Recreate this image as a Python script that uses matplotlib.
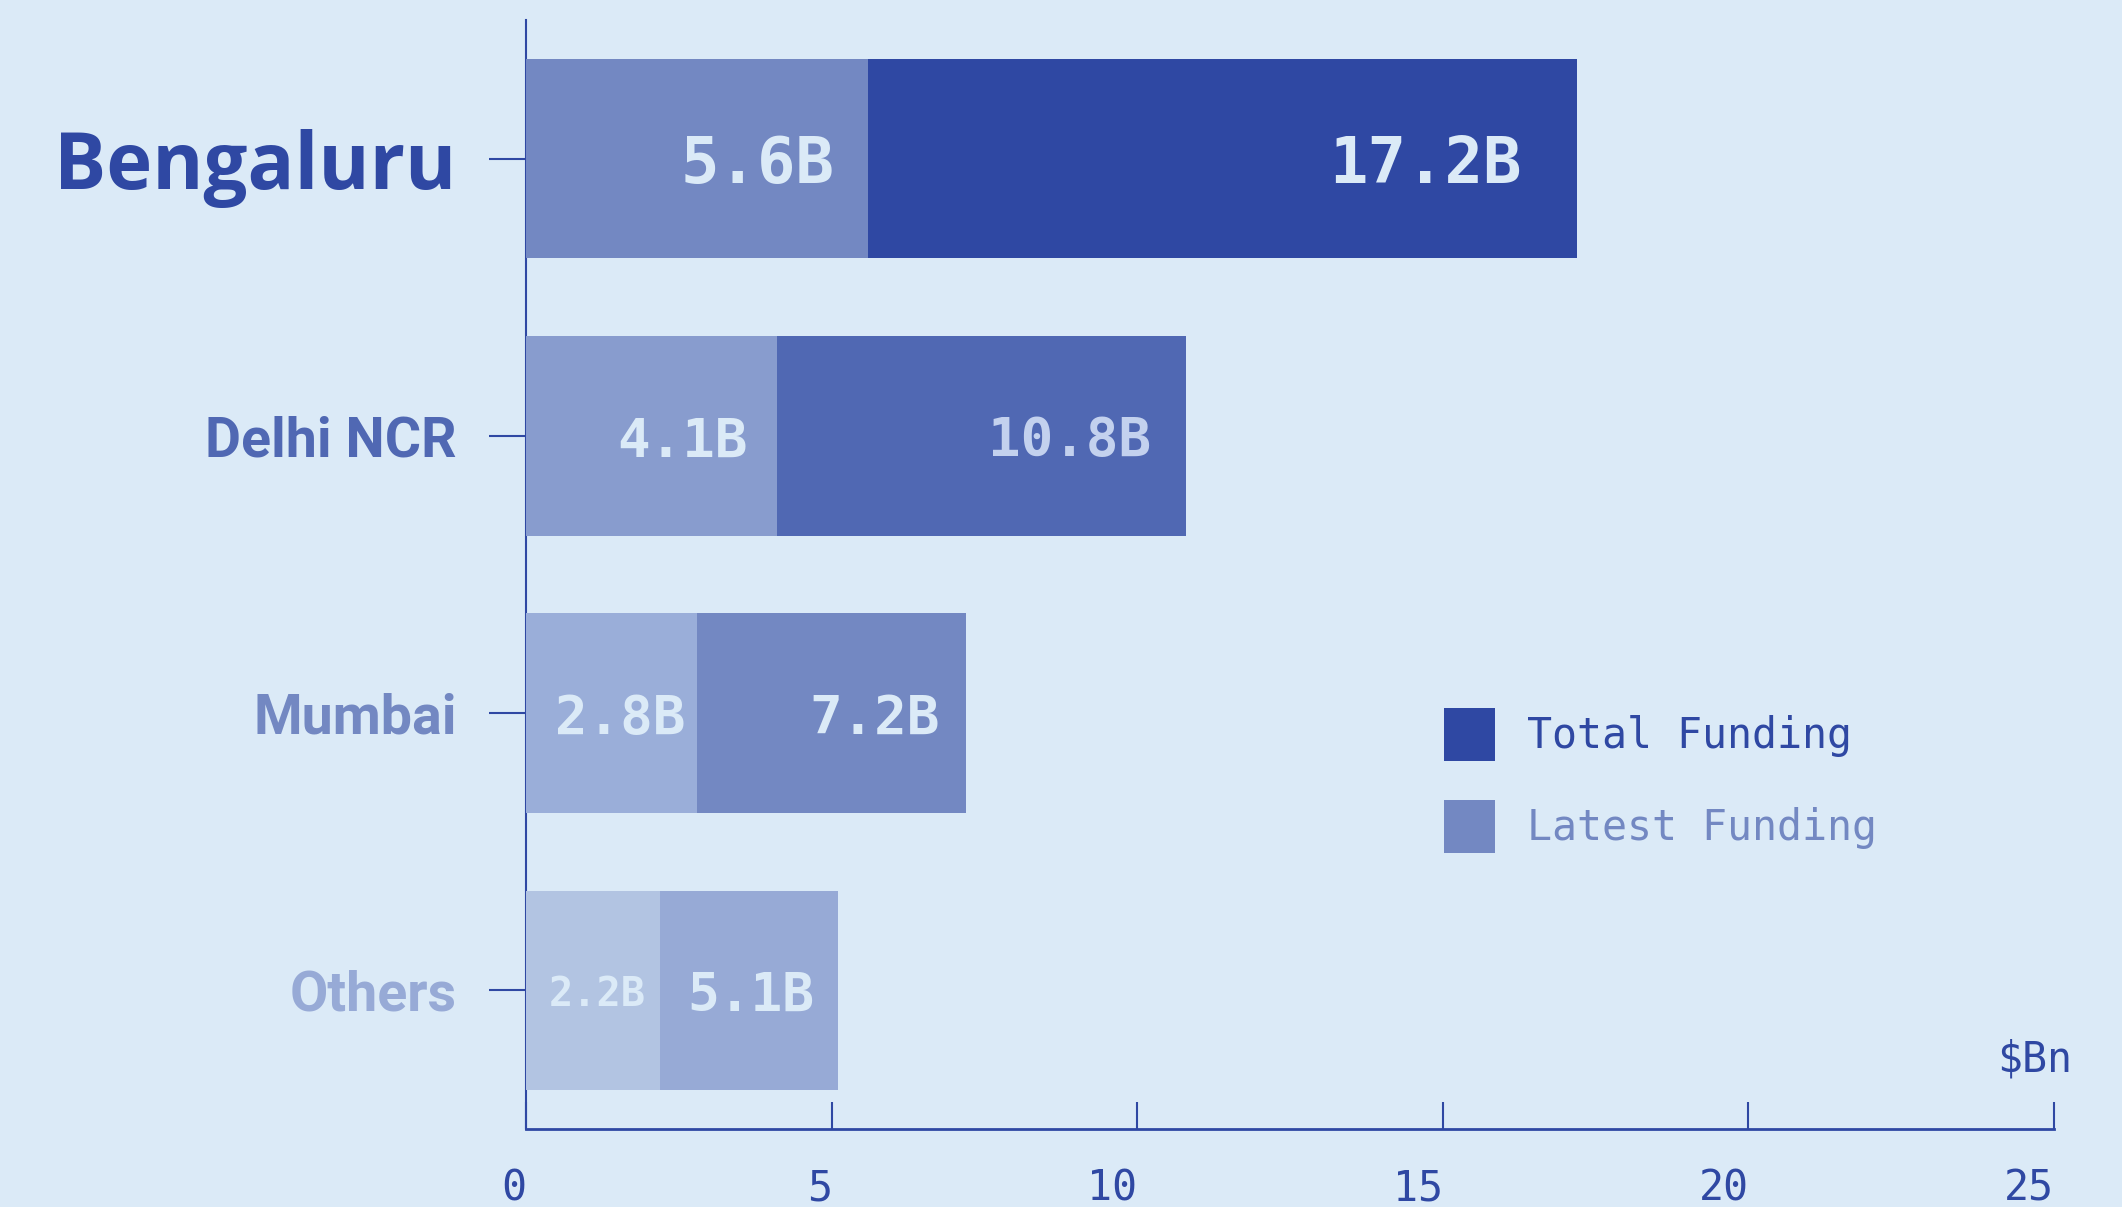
import matplotlib
matplotlib.use("Agg")
import matplotlib.pyplot as plt
from matplotlib.patches import Patch
from matplotlib.transforms import offset_copy
import numpy as np

# ---- data ----
cities = ["Bengaluru", "Delhi NCR", "Mumbai", "Others"]
total_funding = [17.2, 10.8, 7.2, 5.1]
latest_funding = [5.6, 4.1, 2.8, 2.2]
x_ticks = [0, 5, 10, 15, 20, 25]
x_tick_labels = ["0", "5", "10", "15", "20", "25"]
unit_label = "$Bn"
legend_labels = ["Total Funding", "Latest Funding"]

# ---- styles ----
BG = "#dbeaf7"
DARK = "#2f48a3"
total_colors = ["#2f48a3", "#5068b3", "#7388c2", "#97aad6"]
latest_colors = ["#7388c2", "#889cce", "#9aaed9", "#b2c4e2"]
city_sizes = [56, 40, 40, 40]
city_weights = ["bold", "bold", "bold", "bold"]
city_fonts = ["Open Sans", "Roboto", "Roboto", "Roboto"]
total_txt_sizes = [46, 39, 39, 38]
latest_txt_sizes = [46, 39, 39, 29]
total_txt_colors = ["#dbeaf7", "#c3d1ee", "#dbeaf7", "#dbeaf7"]
latest_txt_colors = ["#dbeaf7", "#dbeaf7", "#dbeaf7", "#dbeaf7"]
total_off = [56, 35, 26, 23]   # pixels from bar end
latest_off = [34, 29, 12, 15]
MONO = "DejaVu Sans Mono"

fig = plt.figure(figsize=(21.22, 12.07), dpi=100)
fig.patch.set_facecolor(BG)
ax = fig.add_axes([526 / 2122, 78 / 1207, 1528 / 2122, 1109 / 1207])
ax.set_facecolor(BG)

y = np.arange(len(cities))
ax.barh(y, total_funding, height=0.72, color=total_colors, zorder=2)
ax.barh(y, latest_funding, height=0.72, color=latest_colors, zorder=3)

ax.set_xlim(0, 25)
ax.set_ylim(3.5, -0.5)

for s in ["top", "right"]:
    ax.spines[s].set_visible(False)
ax.spines["left"].set_color(DARK)
ax.spines["left"].set_linewidth(1.5)
ax.spines["bottom"].set_color(DARK)
ax.spines["bottom"].set_linewidth(2.0)

ax.set_xticks(x_ticks)
ax.set_xticklabels(x_tick_labels, fontfamily=MONO, fontsize=30, color=DARK)
for lbl in ax.get_xticklabels():
    lbl.set_ha("right")
ax.tick_params(axis="x", direction="in", length=19.5, width=1.5, color=DARK, pad=28)

ax.set_yticks(y)
ax.set_yticklabels(cities)
for lbl, c, sz, w, f in zip(ax.get_yticklabels(), total_colors, city_sizes,
                            city_weights, city_fonts):
    lbl.set_color(c)
    lbl.set_fontsize(sz)
    lbl.set_fontweight(w)
    lbl.set_fontfamily(f)
ax.tick_params(axis="y", direction="out", length=27, width=1.5, color=DARK, pad=23)

# value labels
for i in range(len(cities)):
    tr = offset_copy(ax.transData, fig=fig, x=-total_off[i], y=0, units="dots")
    ax.text(total_funding[i], y[i], f"{total_funding[i]}B", transform=tr,
            ha="right", va="center_baseline", fontfamily=MONO, fontweight="bold",
            fontsize=total_txt_sizes[i], color=total_txt_colors[i], zorder=5)
    tr2 = offset_copy(ax.transData, fig=fig, x=-latest_off[i], y=0, units="dots")
    ax.text(latest_funding[i], y[i], f"{latest_funding[i]}B", transform=tr2,
            ha="right", va="center_baseline", fontfamily=MONO, fontweight="bold",
            fontsize=latest_txt_sizes[i], color=latest_txt_colors[i], zorder=5)

# unit label
fig.text(2072 / 2122, 1 - 1060 / 1207, unit_label, ha="right", va="center",
         fontfamily=MONO, fontsize=30, color=DARK)

# legend
handles = [Patch(facecolor=total_colors[0]), Patch(facecolor=latest_colors[0])]
leg = fig.legend(handles, legend_labels, loc="upper left",
                 bbox_to_anchor=(1444 / 2122, 1 - 708 / 1207),
                 frameon=False, borderpad=0, borderaxespad=0,
                 handlelength=1.22, handleheight=1.57, handletextpad=0.77,
                 labelspacing=0.95, prop={"family": MONO, "size": 30})
for t, c in zip(leg.get_texts(), [total_colors[0], latest_colors[0]]):
    t.set_color(c)

fig.savefig("out.png", dpi=100, facecolor=BG)
